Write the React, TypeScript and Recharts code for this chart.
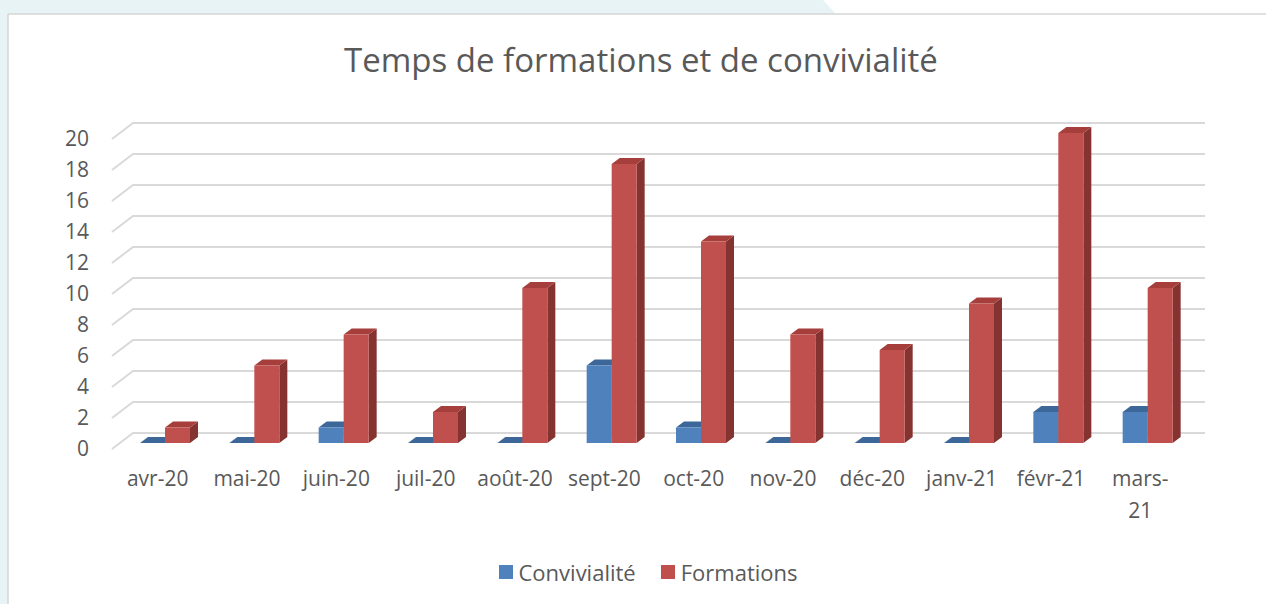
import { BarChart, Bar, XAxis, YAxis, CartesianGrid } from 'recharts';

const months = ['avr-20', 'mai-20', 'juin-20', 'juil-20', 'août-20', 'sept-20', 'oct-20', 'nov-20', 'déc-20', 'janv-21', 'févr-21', 'mars-21'];
// Excel wrapped this one label onto two lines
const wrappedLabels: Record<string, string[]> = { 'mars-21': ['mars-', '21'] };
const convivialite = [0, 0, 1, 0, 0, 5, 1, 0, 0, 0, 2, 2];
const formations = [1, 5, 7, 2, 10, 18, 13, 7, 6, 9, 20, 10];
const yTicks = [0, 2, 4, 6, 8, 10, 12, 14, 16, 18, 20];
const seriesNames = ['Convivialité', 'Formations'];

const data = months.map((month, i) => ({
  month,
  convivialite: convivialite[i],
  formations: formations[i],
}));

const FONT = '"Open Sans", sans-serif';
const TEXT = '#595959';
const BLUE = '#4f81bd';
const RED = '#c0504d';

// depth of the fake 3D
const DX = 8;
const DY = 6;

function makeBox(front: string, top: string, side: string) {
  return (props: any) => {
    const { x, y, width, height } = props;
    const b = y + height;
    return (
      <g>
        <polygon
          points={`${x + width},${y} ${x + width + DX},${y - DY} ${x + width + DX},${b - DY} ${x + width},${b}`}
          fill={side}
        />
        <polygon
          points={`${x},${y} ${x + DX},${y - DY} ${x + width + DX},${y - DY} ${x + width},${y}`}
          fill={top}
        />
        {height > 0 && <rect x={x} y={y} width={width} height={height} fill={front} />}
      </g>
    );
  };
}

// back-wall grid: diagonal from the front edge, then the line along the wall
function GridLine(p: any) {
  const { x1, x2, y1 } = p;
  return (
    <g key={`g-${y1}`}>
      <polyline
        points={`${x1 - 8},${y1 + 6} ${x1 + 13},${y1 - 10} ${x2 + 13},${y1 - 10}`}
        fill="none"
        stroke="#d9d9d9"
        strokeWidth={2}
      />
    </g>
  );
}

function MonthTick(p: any) {
  const label: string = p.payload.value;
  const lines = wrappedLabels[label] ?? [label];
  return (
    <text x={p.x - 7} y={p.y + 35} textAnchor="middle" fill={TEXT} fontSize={21} fontFamily={FONT}>
      {lines.map((l, i) => (
        <tspan key={l} x={p.x - 7} dy={i === 0 ? 7.5 : 32}>
          {l}
        </tspan>
      ))}
    </text>
  );
}

function ValueTick(p: any) {
  return (
    <text x={p.x - 31} y={p.y + 13} textAnchor="end" fill={TEXT} fontSize={21} fontFamily={FONT}>
      {p.payload.value}
    </text>
  );
}

export default function App() {
  return (
    <div style={{ position: 'absolute', left: 0, top: 0, width: 1266, height: 604, background: '#fff', overflow: 'hidden' }}>
      <svg width={1266} height={604} style={{ position: 'absolute', left: 0, top: 0 }}>
        <polygon points="0,0 823,0 836,14 8,14 8,604 0,604" fill="#e7f3f4" />
        <line x1={8} y1={14} x2={1266} y2={14} stroke="#d6d6d6" strokeWidth={1.5} />
        <line x1={8} y1={14} x2={8} y2={604} stroke="#d6d6d6" strokeWidth={1.5} />
      </svg>
      <div
        style={{
          position: 'absolute',
          left: 8,
          top: 36,
          width: 1266,
          textAlign: 'center',
          fontFamily: FONT,
          fontSize: 33,
          color: TEXT,
          lineHeight: '48px',
        }}
      >
        Temps de formations et de convivialité
      </div>
      <div style={{ position: 'absolute', left: 0, top: 0 }}>
        <BarChart
          width={1266}
          height={604}
          data={data}
          margin={{ top: 133, right: 74, bottom: 131, left: 80 }}
          barSize={25}
          barGap={0}
        >
          <CartesianGrid vertical={false} horizontal={GridLine} />
          <XAxis dataKey="month" height={30} interval={0} tickLine={false} axisLine={false} tickSize={0} tickMargin={0} tick={MonthTick} />
          <YAxis width={40} domain={[0, 20]} ticks={yTicks} tickLine={false} axisLine={false} tickSize={0} tickMargin={0} tick={ValueTick} />
          <Bar dataKey="convivialite" name={seriesNames[0]} fill={BLUE} isAnimationActive={false} shape={makeBox(BLUE, '#3d6799', '#345a87')} />
          <Bar dataKey="formations" name={seriesNames[1]} fill={RED} isAnimationActive={false} shape={makeBox(RED, '#a63f3c', '#853331')} />
        </BarChart>
      </div>
      <div
        style={{
          position: 'absolute',
          left: 15,
          top: 556,
          width: 1266,
          display: 'flex',
          justifyContent: 'center',
          gap: 25,
          fontFamily: FONT,
          fontSize: 22,
          color: TEXT,
          lineHeight: '32px',
        }}
      >
        {seriesNames.map((n, i) => (
          <div key={n} style={{ display: 'flex', alignItems: 'center' }}>
            <span style={{ width: 14, height: 14, background: i === 0 ? BLUE : RED, marginRight: 6, display: 'inline-block' }} />
            {n}
          </div>
        ))}
      </div>
    </div>
  );
}
